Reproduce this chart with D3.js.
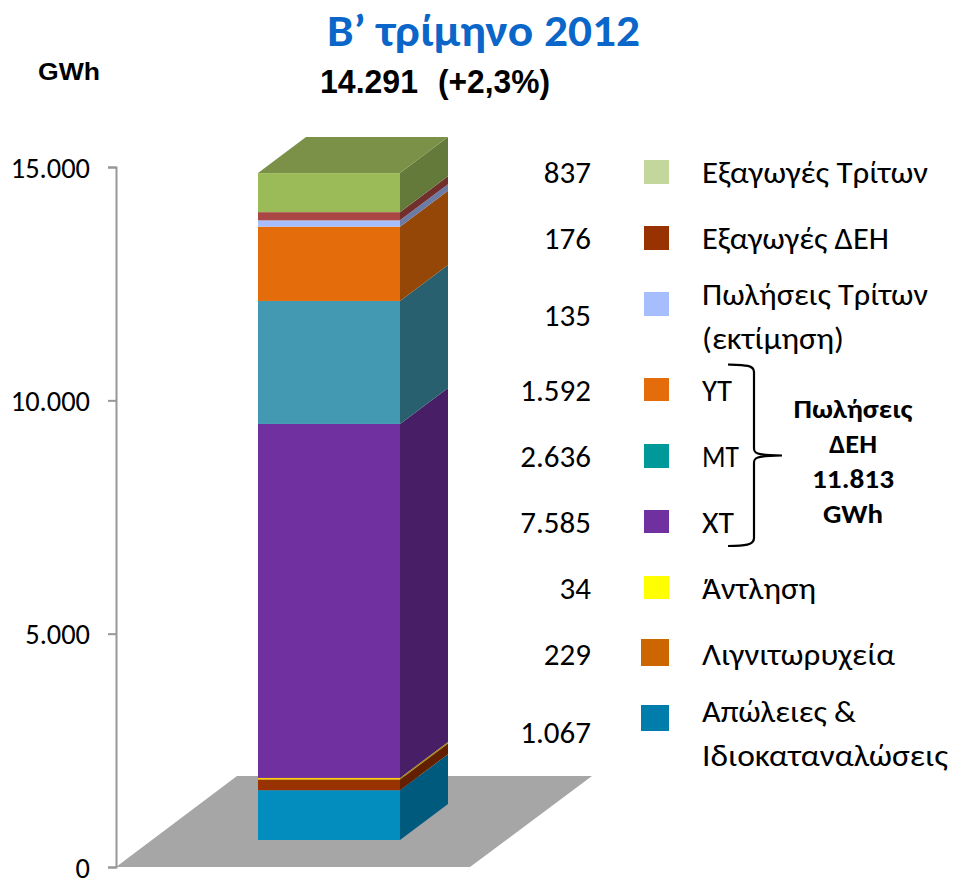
<!DOCTYPE html>
<html><head><meta charset="utf-8">
<style>html,body{margin:0;padding:0;background:#fff}svg{display:block}</style>
<script src="https://cdn.jsdelivr.net/npm/d3@7/dist/d3.min.js"></script>
</head><body><svg id="c" width="953" height="880"></svg>
<script>
const stackLabels = ["Απώλειες & Ιδιοκαταναλώσεις","Λιγνιτωρυχεία","Άντληση","ΧΤ","ΜΤ","ΥΤ","Πωλήσεις Τρίτων (εκτίμηση)","Εξαγωγές ΔΕΗ","Εξαγωγές Τρίτων"];
const stackValues = [1067,229,34,7585,2636,1592,135,176,837];
const frontColors = ["#028dbe","#983200","#ffd000","#7030a0","#4299b1","#e46c0a","#a6bdfe","#aa4643","#9bbb59"];
const sideColors = ["#005a7e","#622000","#a68a00","#481f66","#29606f","#954707","#6a7ba6","#722e2c","#647a3a"];
const topColor = "#7a9147";
const yTicks = [0,5000,10000,15000];
const legendValueLabels = ["837","176","135","1.592","2.636","7.585","34","229","1.067"];
const legendSwatches = ["#c3d69b","#983200","#a6bdfe","#e46c0a","#009999","#7030a0","#ffff00","#cc6600","#007dab"];
const legendTexts = [["Εξαγωγές Τρίτων"],["Εξαγωγές ΔΕΗ"],["Πωλήσεις Τρίτων","(εκτίμηση)"],["ΥΤ"],["ΜΤ"],["ΧΤ"],["Άντληση"],["Λιγνιτωρυχεία"],["Απώλειες &","Ιδιοκαταναλώσεις"]];
const legendTextWidths = [[226],[187],[226,142],[30],[37],[32],[114],[193],[154,246]];
const legendValueY = [172,238,315,390,456,522,588,654,732];
const legendTextY = [[172],[238],[294,338],[390],[456],[522],[588],[654],[711,755]];
const swatchBoxes = [[644,160,25,24],[644,226,25,24],[644,292,25,24],[644,378,25,23],[644,444,25,24],[644,510,25,23],[644,576,25,23],[641,639,28,27],[641,705,28,26]];
const braceLines = ["Πωλήσεις","ΔΕΗ","11.813","GWh"];
const braceWidths = [119,48,82,60];
const braceBaselines = [418,453,488,523];

const svg = d3.select("#c");
const sans = "Carlito, Lato, 'Open Sans', 'Noto Sans', sans-serif";
const arial = "'Liberation Sans', Arial, sans-serif";
const y = d3.scaleLinear().domain([0,15000]).range([867,167]);
const axisX = 116;
const frontLeft = 258, frontRight = 400, depthX = 48, depthY = 36, baseOffset = 27;
const py = v => y(v) - baseOffset;
const poly = pts => pts.map(p=>p.join(",")).join(" ");
const fit = (sel,w) => sel.attr("textLength",w).attr("lengthAdjust","spacingAndGlyphs");

// floor
svg.append("polygon").attr("fill","#a6a6a6")
  .attr("points",poly([[axisX,y(0)],[470,y(0)],[592,y(0)-91],[237,y(0)-91]]));

// axis
const fmt = d3.formatLocale({decimal:",",thousands:".",grouping:[3],currency:["","€"]}).format(",d");
const axis = svg.append("g").attr("transform",`translate(${axisX},0)`)
  .call(d3.axisLeft(y).tickValues(yTicks).tickFormat(fmt).tickSize(8).tickPadding(18));
axis.selectAll("path").attr("stroke","#979797").attr("stroke-width",2).attr("fill","none");
axis.selectAll("line").attr("stroke","#979797").attr("stroke-width",2);
axis.selectAll("text").attr("font-family",sans).attr("font-size",29).attr("fill","#000")
  .attr("transform","translate(-26,1) scale(0.98,1) translate(26,0)");

// stacked 3D bar
let cum = 0;
const layers = stackValues.map((v,i)=>{const l={i,y0:cum,y1:cum+v};cum+=v;return l;});
const g = svg.append("g");
g.selectAll("polygon.side").data(layers).join("polygon").attr("class","side")
  .attr("fill",d=>sideColors[d.i])
  .attr("points",d=>poly([[frontRight,py(d.y0)],[frontRight+depthX,py(d.y0)-depthY],[frontRight+depthX,py(d.y1)-depthY],[frontRight,py(d.y1)]]));
g.selectAll("rect.front").data(layers).join("rect").attr("class","front")
  .attr("x",frontLeft).attr("width",frontRight-frontLeft)
  .attr("y",d=>py(d.y1)).attr("height",d=>py(d.y0)-py(d.y1))
  .attr("fill",d=>frontColors[d.i]);
g.append("polygon").attr("fill",topColor)
  .attr("points",poly([[frontLeft,py(cum)],[frontLeft+depthX,py(cum)-depthY],[frontRight+depthX,py(cum)-depthY],[frontRight,py(cum)]]));

// titles
fit(svg.append("text").attr("x",483.5).attr("y",46).attr("text-anchor","middle")
  .attr("font-family",sans).attr("font-weight",700).attr("font-size",44).attr("fill","#0a66c8").text("Β’ τρίμηνο 2012"),313);
fit(svg.append("text").attr("x",38).attr("y",80).attr("font-family",arial).attr("font-weight",700).attr("font-size",24).attr("fill","#000").text("GWh"),62);
fit(svg.append("text").attr("x",320).attr("y",93).attr("font-family",arial).attr("font-weight",700).attr("font-size",33).attr("fill","#000").text("14.291"),98);
fit(svg.append("text").attr("x",438).attr("y",93).attr("font-family",arial).attr("font-weight",700).attr("font-size",33).attr("fill","#000").text("(+2,3%)"),112);

// legend
const leg = svg.append("g");
leg.selectAll("text.val").data(legendValueLabels).join("text").attr("class","val")
  .attr("text-anchor","end").attr("dy","0.35em")
  .attr("transform",(d,i)=>`translate(591,${legendValueY[i]}) scale(1.0,1)`)
  .attr("font-family",sans).attr("font-size",31).attr("fill","#000").text(d=>d);
leg.selectAll("rect").data(legendSwatches).join("rect")
  .attr("x",(d,i)=>swatchBoxes[i][0]).attr("y",(d,i)=>swatchBoxes[i][1])
  .attr("width",(d,i)=>swatchBoxes[i][2]).attr("height",(d,i)=>swatchBoxes[i][3]).attr("fill",d=>d);
legendTexts.forEach((lines,i)=>lines.forEach((t,j)=>{
  fit(leg.append("text").attr("x",702).attr("y",legendTextY[i][j]).attr("dy","0.35em")
    .attr("font-family",sans).attr("font-size",31).attr("fill","#000").text(t),legendTextWidths[i][j]);
}));

// brace
svg.append("path").attr("fill","none").attr("stroke","#000").attr("stroke-width",2.2)
  .attr("d","M728,364.5 C745,365 754,365 754,372 L754,448 C754,453 755,455 782,455.5 C755,456 754,458 754,463 L754,538 C754,545 745,546 728,546");
braceLines.forEach((t,i)=>{
  fit(svg.append("text").attr("x",853).attr("y",braceBaselines[i]).attr("text-anchor","middle")
    .attr("font-family",sans).attr("font-weight",700).attr("font-size",26).attr("fill","#000").text(t),braceWidths[i]);
});
</script></body></html>
